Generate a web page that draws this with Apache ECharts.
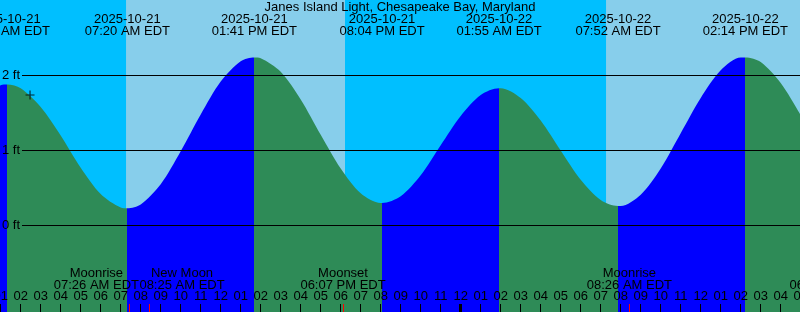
<!DOCTYPE html>
<html>
<head>
<meta charset="utf-8">
<script src="https://cdn.jsdelivr.net/npm/echarts@6/dist/echarts.min.js"></script>
<style>
html,body{margin:0;padding:0;background:#fff;}
#chart{width:800px;height:312px;}
</style>
</head>
<body>
<div id="chart"></div>
<script>
// ---------------- data ----------------
const chartTitle = 'Janes Island Light, Chesapeake Bay, Maryland';
const startDate = '2025-10-21 00:00';

// tide level (ft) at each whole hour after startDate
const sampleHours = [0,1,2,3,4,5,6,7,8,9,10,11,12,13,14,15,16,17,18,19,20,
  21,22,23,24,25,26,27,28,29,30,31,32,33,34,35,36,37,38,39,40,41,42];
const sampleLevels = [1.71,1.87,1.83,1.58,1.20,0.77,0.42,0.24,0.28,0.55,0.99,
  1.48,1.92,2.19,2.23,2.05,1.68,1.21,0.76,0.43,0.30,
  0.39,0.67,1.07,1.46,1.74,1.83,1.70,1.40,1.00,0.61,0.34,
  0.26,0.41,0.76,1.23,1.70,2.07,2.24,2.18,1.90,1.47,1.00];

// high / low tides
const tideTimes  = ['2025-10-21 01:20','2025-10-21 07:20','2025-10-21 13:41','2025-10-21 20:04',
                    '2025-10-22 01:55','2025-10-22 07:52','2025-10-22 14:14'];
const tideLevels = [1.88, 0.23, 2.24, 0.30, 1.83, 0.26, 2.24];
const tideKinds  = ['high','low','high','low','high','low','high'];

// sun
const sunTimes = ['2025-10-21 07:16','2025-10-21 18:13','2025-10-22 07:16'];
const sunKinds = ['rise','set','rise'];

// moon
const moonTimes  = ['2025-10-21 07:26','2025-10-21 08:25','2025-10-21 18:07','2025-10-22 08:26','2025-10-22 18:34'];
const moonEvents = ['Moonrise','New Moon','Moonset','Moonrise','Moonset'];

// current time marker
const nowTime  = '2025-10-21 02:28';
const nowLevel = 1.74;

// reference levels (ft)
const levelLines = [0, 1, 2];

// ---------------- helpers ----------------
function parseT(s){
  const [d,t] = s.split(' ');
  const [y,m,dd] = d.split('-').map(Number);
  const [hh,mm] = t.split(':').map(Number);
  return Date.UTC(y, m-1, dd, hh, mm);
}
const T0 = parseT(startDate);
function toH(s){ return (parseT(s) - T0) / 3600000; }
function clockLabel(s){
  const [d,t] = s.split(' ');
  let [hh,mm] = t.split(':').map(Number);
  const ap = hh < 12 ? 'AM' : 'PM';
  let h12 = hh % 12; if (h12 === 0) h12 = 12;
  return String(h12).padStart(2,'0') + ':' + String(mm).padStart(2,'0') + ' ' + ap + ' EDT';
}
function hourLabel(v){
  const h = ((Math.round(v) % 24) + 24) % 24;
  let h12 = h % 12; if (h12 === 0) h12 = 12;
  return String(h12).padStart(2,'0');
}

// ---------------- style ----------------
const FONT = 'Liberation Sans, Arial, Helvetica, sans-serif';
const C_RISE = '#0000ff', C_FALL = '#2e8b57', C_DAY = '#87ceeb', C_NIGHT = '#00bfff';
const X_MIN = 0, X_MAX = 43;

// ---------------- build ----------------
const curve = [];
sampleHours.forEach((h,i) => curve.push([h, sampleLevels[i]]));
tideTimes.forEach((t,i) => curve.push([toH(t), tideLevels[i]]));
curve.sort((a,b) => a[0]-b[0]);

const tideH = tideTimes.map(toH);
const pieces = [];
pieces.push({ lt: tideH[0], color: tideKinds[0] === 'high' ? C_RISE : C_FALL });
for (let i = 0; i < tideH.length; i++) {
  const p = { gte: tideH[i], color: tideKinds[i] === 'high' ? C_FALL : C_RISE };
  if (i + 1 < tideH.length) p.lt = tideH[i+1];
  pieces.push(p);
}

const sunH = sunTimes.map(toH);
const skyAreas = [];
let prev = X_MIN, isDay = sunKinds[0] !== 'rise';
sunH.forEach((h,i) => {
  skyAreas.push([{ xAxis: prev, itemStyle: { color: isDay ? C_DAY : C_NIGHT } }, { xAxis: h }]);
  prev = h; isDay = sunKinds[i] === 'rise';
});
skyAreas.push([{ xAxis: prev, itemStyle: { color: isDay ? C_DAY : C_NIGHT } }, { xAxis: X_MAX }]);

const lines = [];
levelLines.forEach(v => {
  lines.push([{ name: v + ' ft', x: 22, yAxis: v,
                label: { show: true, position: 'start', distance: 2, formatter: '{b}',
                         color: '#000', fontSize: 13, fontFamily: FONT },
                lineStyle: { color: '#000', width: 1, type: 'solid' } },
              { x: 800, yAxis: v }]);
});
// midnight ticks
for (let h = 24; h < X_MAX; h += 24) {
  lines.push([{ xAxis: h, y: 304, label: { show: false }, lineStyle: { color: '#000', width: 3, type: 'solid' } },
              { xAxis: h, y: 312 }]);
}
moonTimes.forEach(t => {
  const h = toH(t);
  lines.push([{ xAxis: h, y: 304, label: { show: false }, lineStyle: { color: '#ff0000', width: 1, type: 'solid' } },
              { xAxis: h, y: 312 }]);
});

const labelPoints = [];
tideTimes.forEach(t => {
  labelPoints.push({ name: t.split(' ')[0] + '\n' + clockLabel(t), xAxis: toH(t), y: 25 });
});
const moonShift = { 0: -33, 1: 33 };
moonTimes.forEach((t,i) => {
  labelPoints.push({ name: moonEvents[i] + '\n' + clockLabel(t), xAxis: toH(t), y: 279.5,
                     label: { offset: [moonShift[i] || 0, 0] } });
});

const chart = echarts.init(document.getElementById('chart'), null, { renderer: 'canvas' });
chart.setOption({
  animation: false,
  backgroundColor: C_NIGHT,
  title: {
    text: chartTitle, left: 'center', top: 1, padding: 0,
    textStyle: { fontSize: 13, fontWeight: 'normal', color: '#000', fontFamily: FONT, lineHeight: 12 }
  },
  grid: { left: -19.3, top: 0, width: 20 * (X_MAX - X_MIN), height: 312, outerBoundsMode: 'none' },
  xAxis: {
    type: 'value', min: X_MIN, max: X_MAX, interval: 1, z: 10, position: 'bottom',
    axisLine: { show: false, onZero: false },
    axisTick: { show: true, inside: true, length: 8, lineStyle: { color: '#000', width: 1 } },
    axisLabel: { show: true, inside: true, margin: 9, formatter: hourLabel, hideOverlap: false,
                 color: '#000', fontSize: 13, fontFamily: FONT },
    splitLine: { show: false }
  },
  yAxis: { type: 'value', min: -1.1533, max: 3.0067, show: false },
  visualMap: { type: 'piecewise', show: false, seriesIndex: 0, dimension: 0, pieces: pieces },
  series: [
    {
      type: 'line', data: curve, z: 3, silent: true,
      smooth: 0.3, showSymbol: false, symbol: 'none',
      lineStyle: { width: 0 },
      areaStyle: { opacity: 1, origin: 'start' }
    },
    {
      type: 'line', data: [], z: 1, silent: true,
      markArea: { silent: true, data: skyAreas, label: { show: false } }
    },
    {
      type: 'line', data: [], z: 6, silent: true,
      markLine: { silent: true, symbol: ['none','none'], animation: false, data: lines },
      markPoint: {
        silent: true, symbol: 'rect', symbolSize: 1,
        itemStyle: { color: 'transparent' },
        label: { show: true, position: 'inside', formatter: '{b}', color: '#000',
                 fontSize: 13, lineHeight: 12, fontFamily: FONT, align: 'center' },
        data: labelPoints
      }
    },
    {
      type: 'scatter', z: 7, silent: true,
      data: [[toH(nowTime), nowLevel]],
      symbol: 'path://M0,3.5H8V4.5H0Z M3.5,0H4.5V8H3.5Z', symbolSize: 9,
      itemStyle: { color: '#000' }
    }
  ]
});
</script>
</body>
</html>
